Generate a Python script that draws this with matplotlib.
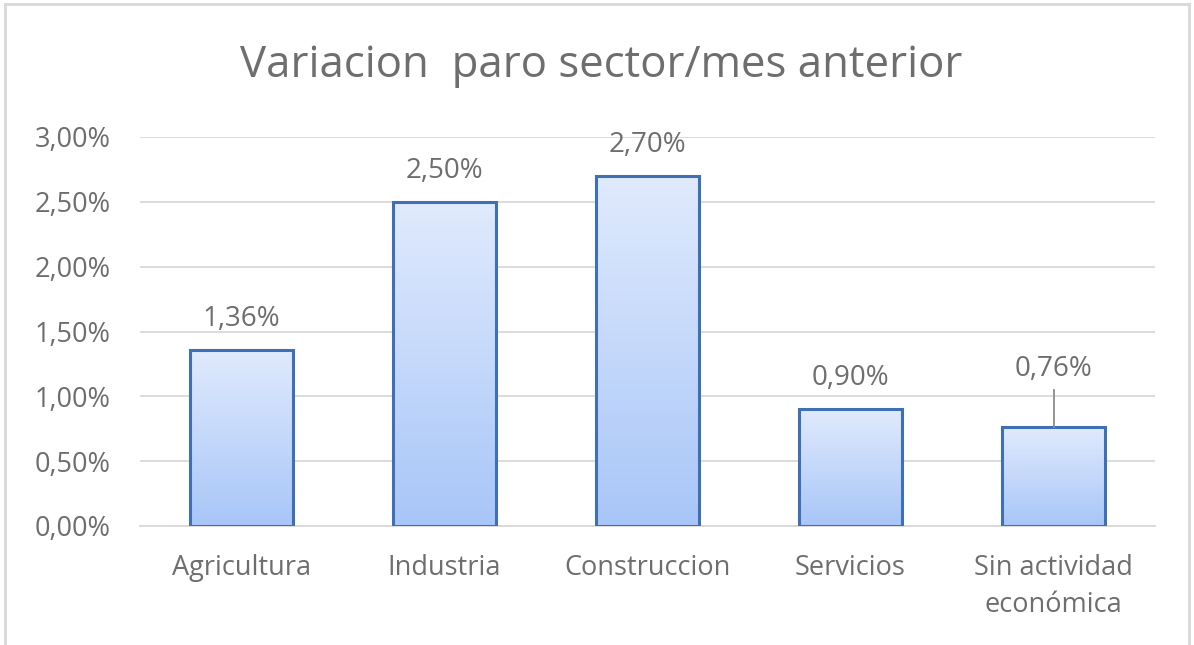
import numpy as np
import matplotlib
matplotlib.use("Agg")
import matplotlib.pyplot as plt
from matplotlib.lines import Line2D
from matplotlib.colors import LinearSegmentedColormap

# data
sectores = ["Agricultura", "Industria", "Construccion", "Servicios", "Sin actividad\neconómica"]
variacion = [1.36, 2.50, 2.70, 0.90, 0.76]   # %
yticks = [0.0, 0.5, 1.0, 1.5, 2.0, 2.5, 3.0]

plt.rcParams['font.family'] = ['Open Sans', 'DejaVu Sans']
gris = "#6e6e6e"

fig = plt.figure(figsize=(11.94, 6.45), dpi=100)
ax = fig.add_axes([140/1194, 119/645, 1015/1194, 389/645])

x = np.arange(len(sectores))
ancho = 0.51
grad = LinearSegmentedColormap.from_list("g", ["#a8c6f8", "#e0eafd"])
bars = ax.bar(x, variacion, width=ancho, facecolor="none", edgecolor="#3f6fb5",
              linewidth=2.2, zorder=3)
for b in bars:
    x0, y0 = b.get_x(), b.get_y()
    ax.imshow(np.linspace(0, 1, 100).reshape(-1, 1), cmap=grad, origin="lower",
              extent=[x0, x0 + b.get_width(), y0, y0 + b.get_height()],
              aspect="auto", zorder=2)

ax.set_xlim(-0.5, len(sectores) - 0.5)
ax.set_ylim(0, 3.0)
ax.set_yticks(yticks)
ax.set_yticklabels([f"{v:.2f}%".replace(".", ",") for v in yticks])
ax.yaxis.grid(True, color="#d9d9d9", linewidth=1.3, zorder=0)
ax.set_axisbelow(True)
for s in ["left", "right", "top"]:
    ax.spines[s].set_visible(False)
ax.spines["bottom"].set_color("#d9d9d9")
ax.spines["bottom"].set_linewidth(1.3)
ax.tick_params(length=0, colors=gris, labelsize=19.5)
ax.tick_params(axis="y", pad=21)
ax.tick_params(axis="x", pad=20)
ax.set_xticks(x)
ax.set_xticklabels(sectores, linespacing=1.45)

# etiquetas
for i, v in enumerate(variacion):
    desplaz = 0.24
    if i == len(variacion) - 1:
        desplaz = 0.45
        ax.plot([i, i], [v, v + 0.29], color="#8c8c8c", lw=1.3, zorder=4, clip_on=False)
    ax.text(i, v + desplaz, f"{v:.2f}%".replace(".", ","), ha="center", va="center",
            fontsize=20, color=gris, clip_on=False)

fig.text(601/1194, 1 - 66/645, "Variacion  paro sector/mes anterior", ha="center",
         va="center", fontsize=31.5, color=gris)

# marco
borde = "#d9d9d9"
fig.add_artist(Line2D([5/1194, 5/1194], [0, 1 - 4/645], transform=fig.transFigure, color=borde, lw=2))
fig.add_artist(Line2D([5/1194, 1189/1194], [1 - 4/645, 1 - 4/645], transform=fig.transFigure, color=borde, lw=2))
fig.add_artist(Line2D([1189/1194, 1189/1194], [0, 1 - 4/645], transform=fig.transFigure, color=borde, lw=2))

fig.savefig("out.png", dpi=100)
